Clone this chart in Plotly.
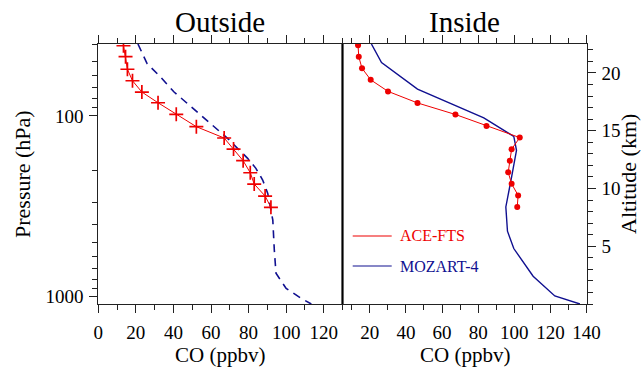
import plotly.graph_objects as go

W, H = 644, 367

# ---------------- data ----------------
# Outside panel (pressure, hPa vs CO, ppbv)
ace_out_co = [13.4, 14.5, 15.5, 18.2, 23.2, 31.8, 41.5, 52.2, 67.0, 72.0, 77.1, 80.9, 83.0, 88.8, 91.9]
ace_out_p = [40.9, 47.0, 55.2, 63.9, 73.8, 84.6, 98.0, 114.8, 132.6, 152.6, 177.1, 206.4, 238.4, 277.8, 320.9]

moz_out_co = [21.1, 25.9, 33.0, 40.2, 47.3, 54.5, 61.6, 68.8, 74.1, 79.5, 83.9, 87.5, 90.2, 92.9, 93.7, 94.6, 100.0, 108.0, 113.4]
moz_out_p = [40.0, 51.2, 60.7, 73.5, 85.2, 98.9, 114.8, 133.1, 151.2, 171.8, 195.2, 226.5, 268.5, 377.3, 552.8, 744.0, 901.0, 1023.0, 1100.0]

# Inside panel (altitude, km vs CO, ppbv)
ace_in_co = [13.5, 13.9, 15.7, 20.5, 30.1, 46.4, 67.4, 84.6, 103.0, 98.5, 97.5, 96.6, 98.5, 102.1, 101.6]
ace_in_z = [22.4, 21.4, 20.4, 19.4, 18.4, 17.4, 16.4, 15.4, 14.4, 13.4, 12.4, 11.4, 10.4, 9.4, 8.4]

moz_in_co = [20.9, 26.5, 46.4, 83.1, 99.7, 101.2, 98.5, 95.3, 96.2, 99.7, 110.4, 122.4, 136.3]
moz_in_z = [22.5, 20.9, 18.6, 16.1, 14.5, 13.3, 11.0, 8.4, 6.3, 4.8, 2.4, 0.7, 0.0]

series_names = ["ACE-FTS", "MOZART-4"]
panel_titles = ["Outside", "Inside"]
x_title = "CO (ppbv)"
y_left_title = "Pressure (hPa)"
y_right_title = "Altitude (km)"
p_major = [100, 1000]
p_minor = [40, 50, 60, 70, 80, 90, 200, 300, 400, 500, 600, 700, 800, 900]
z_major = [5, 10, 15, 20]

RED = "#ee0000"
BLUE = "#101090"
FONT = "Liberation Serif"

# ---------------- geometry (pixels) ----------------
x0L, x1L, x1R = 98.3, 342.5, 586.7
yT, yB = 44.0, 304.0
def px(x): return x / W
def py(y): return 1 - y / H

fig = go.Figure()

fig.add_trace(go.Scatter(x=moz_out_co, y=moz_out_p, mode="lines", xaxis="x", yaxis="y",
                         line=dict(color=BLUE, width=1.6, dash="8px,6px"), showlegend=False))
fig.add_trace(go.Scatter(x=ace_out_co, y=ace_out_p, mode="lines+markers", xaxis="x", yaxis="y",
                         line=dict(color=RED, width=1),
                         marker=dict(symbol="cross-thin", size=10, line=dict(color=RED, width=1.7)),
                         showlegend=False))
fig.add_trace(go.Scatter(x=moz_in_co, y=moz_in_z, mode="lines", xaxis="x2", yaxis="y2",
                         line=dict(color=BLUE, width=1.4), showlegend=False))
fig.add_trace(go.Scatter(x=ace_in_co, y=ace_in_z, mode="lines+markers", xaxis="x2", yaxis="y2",
                         line=dict(color=RED, width=1),
                         marker=dict(symbol="circle", size=6, color=RED), showlegend=False))

tickfont = dict(family=FONT, size=19, color="black")
axcommon = dict(showgrid=False, zeroline=False, showline=True, linecolor="#222", linewidth=1,
                ticks="outside", tickcolor="#222", tickfont=tickfont, automargin=False)

ydom = [py(yB), py(yT)]
fig.update_layout(
    width=W, height=H, margin=dict(l=0, r=0, t=0, b=0, autoexpand=False),
    paper_bgcolor="white", plot_bgcolor="white", showlegend=False,
    xaxis=dict(domain=[px(x0L), px(x1L)], range=[0, 130], tick0=0, dtick=20, ticklen=8,
               mirror="ticks", anchor="y", ticklabelstandoff=3,
               minor=dict(dtick=10, ticks="outside", ticklen=5, tickcolor="#222"), **axcommon),
    yaxis=dict(domain=ydom, type="log", range=[3.04139, 1.60206], anchor="x",
               tickmode="array", tickvals=p_major, ticktext=[str(v) for v in p_major], ticklen=8,
               ticklabelstandoff=2,
               minor=dict(tickmode="array", tickvals=p_minor, ticks="outside", ticklen=5, tickcolor="#222"),
               **axcommon),
    xaxis2=dict(domain=[px(x1L), px(x1R)], range=[4.9, 140.05], tick0=0, dtick=20, ticklen=8,
                mirror="ticks", anchor="y2", ticklabelstandoff=3,
                minor=dict(dtick=10, ticks="outside", ticklen=5, tickcolor="#222"), **axcommon),
    yaxis2=dict(domain=ydom, range=[0, 22.5], anchor="x2", side="right",
                tickmode="array", tickvals=z_major, ticklen=8, ticklabelstandoff=2,
                minor=dict(dtick=1, tick0=0, ticks="outside", ticklen=5, tickcolor="#222"),
                **axcommon),
)

# thick separator between the panels
fig.add_shape(type="line", xref="paper", yref="paper", x0=px(x1L), x1=px(x1L),
              y0=py(yB), y1=py(yT), line=dict(color="black", width=2.2))

def ann(text, x, y, size, angle=0, color="black", xanchor="center"):
    fig.add_annotation(text=text, x=px(x), y=py(y), xref="paper", yref="paper",
                       showarrow=False, textangle=angle, xanchor=xanchor, yanchor="middle",
                       font=dict(family=FONT, size=size, color=color))

ann(panel_titles[0], (x0L + x1L) / 2, 22, 29)
ann(panel_titles[1], (x1L + x1R) / 2, 22, 29)
ann(x_title, (x0L + x1L) / 2, 355, 21)
ann(x_title, (x1L + x1R) / 2, 355, 21)
ann(y_left_title, 22, 174, 22, angle=-90)
ann(y_right_title, 628, 174, 22, angle=-90)

# legend (line samples + labels)
for name, color, yy in zip(series_names, [RED, BLUE], [236, 266]):
    fig.add_shape(type="line", xref="paper", yref="paper", x0=px(352.7), x1=px(391.7),
                  y0=py(yy), y1=py(yy), line=dict(color=color, width=1.2))
    ann(name, 398, yy, 16, color=color, xanchor="left")

fig.write_html("out.html")
